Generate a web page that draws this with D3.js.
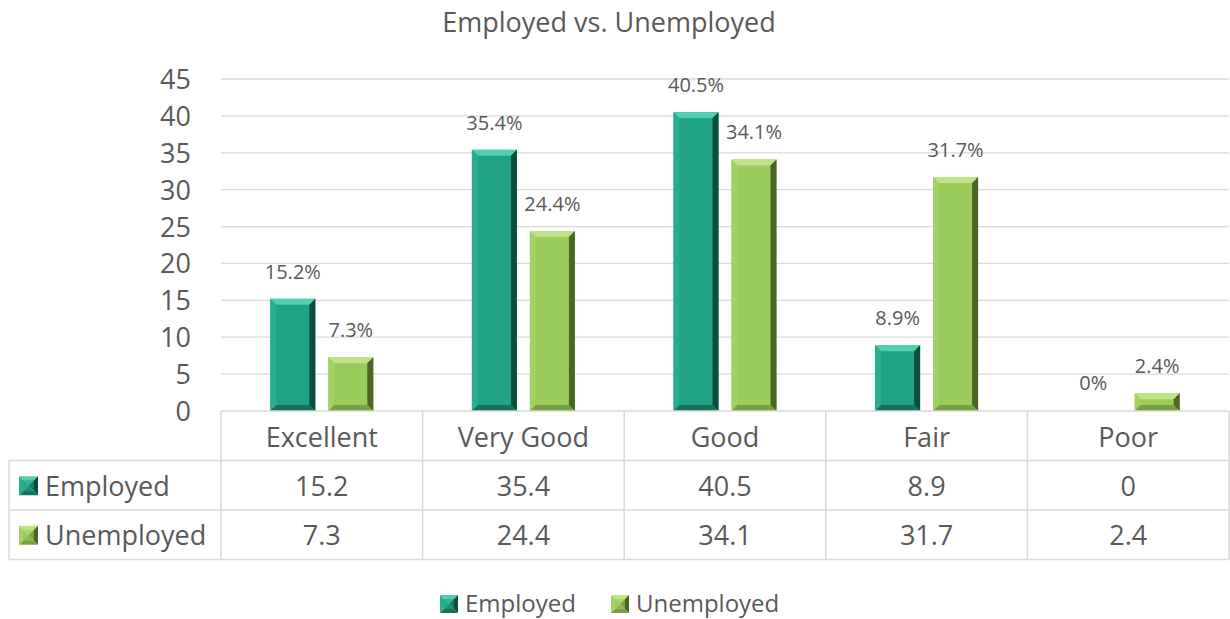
<!DOCTYPE html>
<html>
<head>
<meta charset="utf-8">
<script src="https://cdn.jsdelivr.net/npm/d3@7"></script>
<style>
  body { margin: 0; background: #fff; }
  svg text { font-family: "Open Sans", sans-serif; fill: #595959; }
</style>
</head>
<body>
<div id="chart"></div>
<script>
// data
var categories = ['Excellent', 'Very Good', 'Good', 'Fair', 'Poor'];
var seriesNames = ['Employed', 'Unemployed'];
var employed = [15.2, 35.4, 40.5, 8.9, 0];
var unemployed = [7.3, 24.4, 34.1, 31.7, 2.4];
var yTicks = [0, 5, 10, 15, 20, 25, 30, 35, 40, 45];

var width = 1230, height = 619;
var plot = { left: 221, right: 1229, top: 79, bottom: 411 };
var tableLeft = 9;
var rowH = 49.5;

// colours for the bevelled look: body, top, left, right, bottom
var palette = {
  Employed:   { body: '#20a287', top: '#52cfae', left: '#28ad91', right: '#0b4d3e', bottom: '#15725f' },
  Unemployed: { body: '#9bcc5b', top: '#bfe487', left: '#a3d264', right: '#4a6627', bottom: '#779f43' }
};

var values = { Employed: employed, Unemployed: unemployed };

var svg = d3.select('#chart').append('svg')
  .attr('width', width)
  .attr('height', height);

var x0 = d3.scaleBand().domain(categories).range([plot.left, plot.right]).padding(0);
var groupW = 103;
var x1 = d3.scaleBand().domain(seriesNames)
  .range([(x0.bandwidth() - groupW) / 2, (x0.bandwidth() + groupW) / 2])
  .paddingInner(0.224);
var y = d3.scaleLinear().domain([0, 45]).range([plot.bottom, plot.top]);

// title
svg.append('text')
  .attr('x', 609).attr('y', 32)
  .attr('text-anchor', 'middle')
  .style('font-size', '27px')
  .text('Employed vs. Unemployed');

// gridlines
svg.append('g').selectAll('line')
  .data(yTicks.filter(function (d) { return d > 0; }))
  .enter().append('line')
  .attr('x1', plot.left).attr('x2', plot.right)
  .attr('y1', function (d) { return y(d); })
  .attr('y2', function (d) { return y(d); })
  .attr('stroke', '#d9d9d9').attr('stroke-width', 1.3);

// y axis labels
var yAxis = d3.axisLeft(y).tickValues(yTicks).tickSize(0).tickPadding(0);
var ya = svg.append('g').attr('transform', 'translate(191,0)').call(yAxis);
ya.select('.domain').remove();
ya.selectAll('text')
  .style('font-size', '27px')
  .style('font-family', '"Open Sans", sans-serif')
  .attr('fill', '#595959')
  .attr('dy', '0.35em');

// bars with a bevel
function bevelBar(g, x, yTop, w, h, c) {
  var b = Math.min(6, h / 2, w / 2);
  var x2 = x + w, y2 = yTop + h;
  g.append('rect').attr('x', x).attr('y', yTop).attr('width', w).attr('height', h).attr('fill', c.body);
  if (h <= 0) return;
  var poly = function (pts, col) {
    g.append('polygon').attr('points', pts.map(function (p) { return p.join(','); }).join(' ')).attr('fill', col);
  };
  poly([[x, yTop], [x2, yTop], [x2 - b, yTop + b], [x + b, yTop + b]], c.top);
  poly([[x, yTop], [x + b, yTop + b], [x + b, y2 - b], [x, y2]], c.left);
  poly([[x2, yTop], [x2, y2], [x2 - b, y2 - b], [x2 - b, yTop + b]], c.right);
  poly([[x, y2], [x + b, y2 - b], [x2 - b, y2 - b], [x2, y2]], c.bottom);
}

var groups = svg.append('g').selectAll('g')
  .data(categories)
  .enter().append('g')
  .attr('transform', function (d) { return 'translate(' + x0(d) + ',0)'; });

groups.each(function (cat, i) {
  var g = d3.select(this);
  seriesNames.forEach(function (s) {
    var v = values[s][i];
    var bx = x1(s), bw = x1.bandwidth();
    var top = y(v), h = y(0) - y(v);
    if (h > 0) bevelBar(g.append('g'), bx, top, bw, h, palette[s]);
    g.append('text')
      .attr('x', bx + bw / 2 + (v === 0 ? -6 : 0))
      .attr('y', v === 0 ? y(0) - 21 : top - 20)
      .attr('text-anchor', 'middle')
      .style('font-size', '20px')
      .text(v + '%');
  });
});

// data table
var tbl = svg.append('g');
var line = function (xa, ya1, xb, yb) {
  tbl.append('line').attr('x1', xa).attr('y1', ya1).attr('x2', xb).attr('y2', yb)
    .attr('stroke', '#d9d9d9').attr('stroke-width', 1.5);
};
var r1 = plot.bottom + rowH, r2 = r1 + rowH, r3 = r2 + rowH;
line(plot.left, plot.bottom, plot.right, plot.bottom);
line(tableLeft, r1, plot.right, r1);
line(tableLeft, r2, plot.right, r2);
line(tableLeft, r3, plot.right, r3);
line(tableLeft, r1, tableLeft, r3);
categories.forEach(function (c) { line(x0(c), plot.bottom, x0(c), r3); });
line(plot.right, plot.bottom, plot.right, r3);

tbl.selectAll('.cat').data(categories).enter().append('text')
  .attr('class', 'cat')
  .attr('x', function (d) { return x0(d) + x0.bandwidth() / 2; })
  .attr('y', plot.bottom + rowH / 2 + 2)
  .attr('dy', '0.35em')
  .attr('text-anchor', 'middle')
  .style('font-size', '27px')
  .text(function (d) { return d; });

function legendIcon(g, x, yy, s, c) {
  var b = s / 2;
  var poly = function (pts, col) {
    g.append('polygon').attr('points', pts.map(function (p) { return p.join(','); }).join(' ')).attr('fill', col);
  };
  var cx = x + b, cy = yy + b;
  poly([[x, yy], [x + s, yy], [cx, cy]], c.top);
  poly([[x, yy], [cx, cy], [x, yy + s]], c.left);
  poly([[x + s, yy], [x + s, yy + s], [cx, cy]], c.right);
  poly([[x, yy + s], [cx, cy], [x + s, yy + s]], c.bottom);
  g.append('rect').attr('x', x + 4).attr('y', yy + 4).attr('width', s - 8).attr('height', s - 8).attr('fill', c.body).attr('opacity', 0.6);
}

seriesNames.forEach(function (s, k) {
  var rowTop = r1 + k * rowH;
  var cy = rowTop + rowH / 2 + 1;
  legendIcon(tbl, 19, cy - 10, 19, palette[s]);
  tbl.append('text').attr('x', 45).attr('y', cy).attr('dy', '0.35em')
    .style('font-size', '27px').text(s);
  tbl.selectAll('.v' + k).data(values[s]).enter().append('text')
    .attr('x', function (d, i) { return x0(categories[i]) + x0.bandwidth() / 2; })
    .attr('y', cy).attr('dy', '0.35em')
    .attr('text-anchor', 'middle')
    .style('font-size', '27px')
    .text(function (d) { return d; });
});

// legend
var leg = svg.append('g');
var legX = [440, 611];
seriesNames.forEach(function (s, k) {
  legendIcon(leg, legX[k], 595, 18, palette[s]);
  leg.append('text').attr('x', legX[k] + 25).attr('y', 604).attr('dy', '0.35em')
    .style('font-size', '24px').text(s);
});
</script>
</body>
</html>
